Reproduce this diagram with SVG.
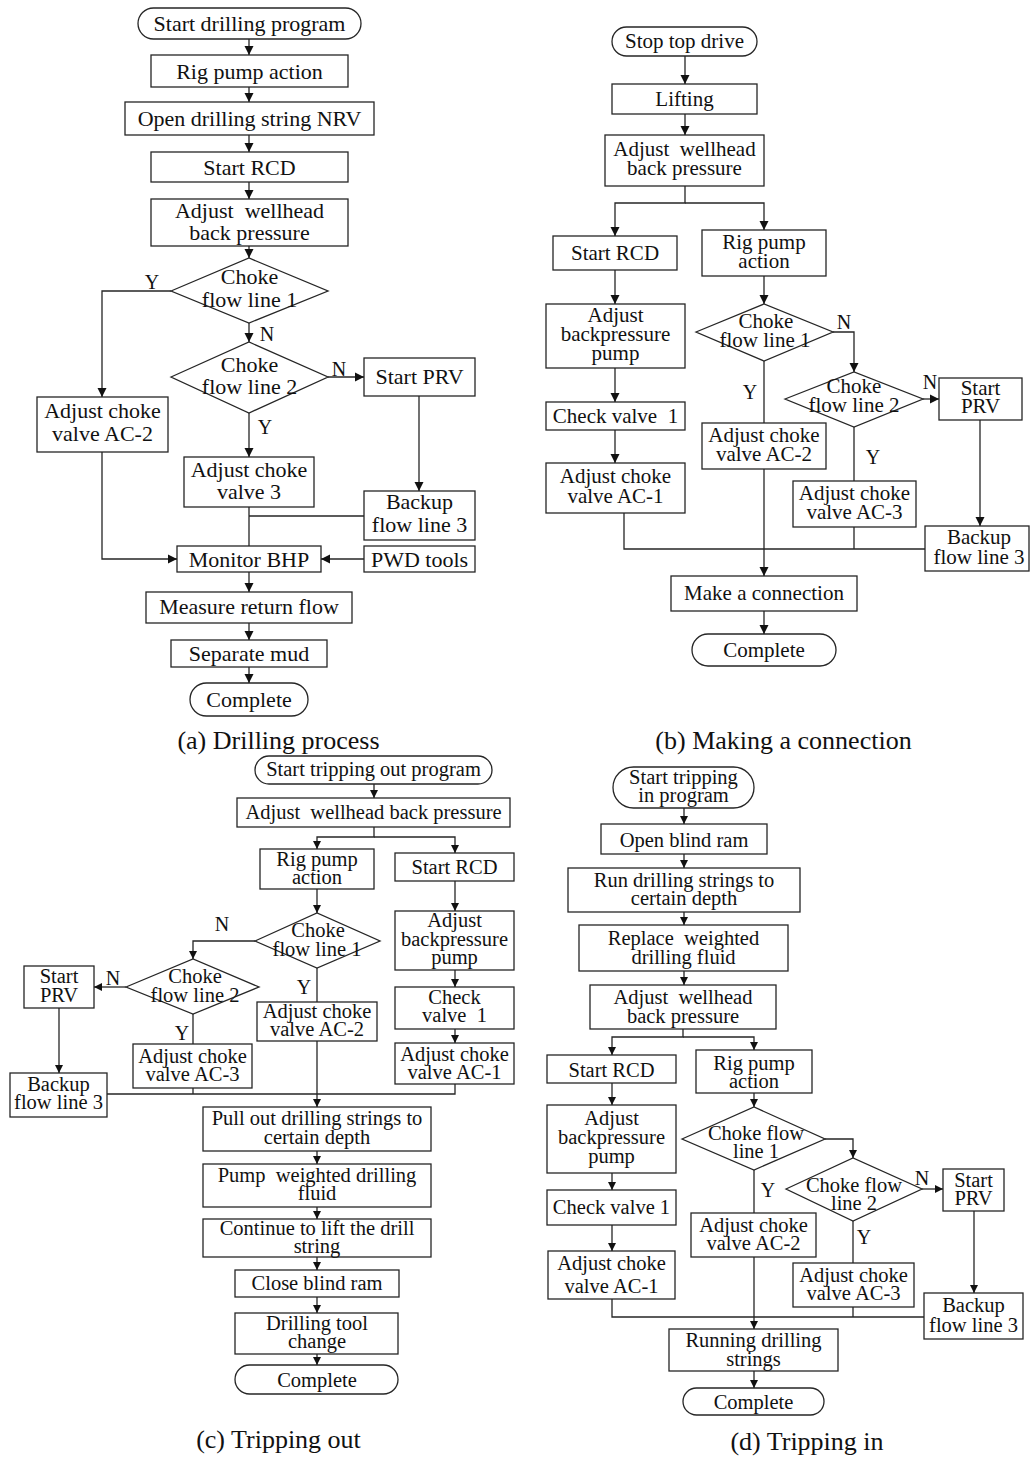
<svg xmlns="http://www.w3.org/2000/svg" width="1030" height="1459" viewBox="0 0 1030 1459">
<defs>
<style>
.n{fill:#fff;stroke:#262626;stroke-width:1.3}
.c{fill:none;stroke:#262626;stroke-width:1.3}
.a{marker-end:url(#ah)}
.s{marker-end:url(#as)}
text{font-family:"Liberation Serif","Times New Roman",serif;fill:#111;text-anchor:middle}
.fa{font-size:22px}
.fb{font-size:21px}
.fc{font-size:20.5px}
.lb{font-size:20px}
.cap{font-size:26px}
.pre{white-space:pre}
</style>
<marker id="ah" viewBox="0 0 10 10" refX="10" refY="5" markerWidth="9" markerHeight="10" markerUnits="userSpaceOnUse" orient="auto"><path d="M0,0 L10,5 L0,10 z" fill="#111"/></marker>
<marker id="as" viewBox="0 0 10 10" refX="10" refY="5" markerWidth="8" markerHeight="9" markerUnits="userSpaceOnUse" orient="auto"><path d="M0,0 L10,5 L0,10 z" fill="#111"/></marker>
</defs>

<!-- ===== (a) Drilling process ===== -->
<g id="a-start"><rect class="n" x="138" y="8" width="223" height="31" rx="15.5"/><text class="fa" x="249.5" y="31">Start drilling program</text></g>
<g id="a-rig"><rect class="n" x="151" y="55" width="197" height="32"/><text class="fa" x="249.5" y="79">Rig pump action</text></g>
<g id="a-nrv"><rect class="n" x="125" y="102" width="249" height="33"/><text class="fa" x="249.5" y="126">Open drilling string NRV</text></g>
<g id="a-rcd"><rect class="n" x="151" y="152" width="197" height="30"/><text class="fa" x="249.5" y="175">Start RCD</text></g>
<g id="a-adj"><rect class="n" x="151" y="199" width="197" height="47"/><text class="fa pre" x="249.5" y="218">Adjust  wellhead</text><text class="fa" x="249.5" y="240">back pressure</text></g>
<g id="a-d1"><polygon class="n" points="171,291 249,258 328,291 249,323"/><text class="fa" x="249.5" y="284">Choke</text><text class="fa" x="249.5" y="307">flow line 1</text></g>
<g id="a-d2"><polygon class="n" points="171,377 249,342 328,377 249,413"/><text class="fa" x="249.5" y="372">Choke</text><text class="fa" x="249.5" y="394">flow line 2</text></g>
<g id="a-prv"><rect class="n" x="364" y="358" width="111" height="38"/><text class="fa" x="419.5" y="384">Start PRV</text></g>
<g id="a-ac2"><rect class="n" x="37" y="397" width="131" height="55"/><text class="fa" x="102.5" y="418">Adjust choke</text><text class="fa" x="102.5" y="441">valve AC-2</text></g>
<g id="a-v3"><rect class="n" x="184" y="457" width="130" height="50"/><text class="fa" x="249" y="477">Adjust choke</text><text class="fa" x="249" y="499">valve 3</text></g>
<g id="a-backup"><rect class="n" x="364" y="491" width="111" height="49"/><text class="fa" x="419.5" y="509">Backup</text><text class="fa" x="419.5" y="532">flow line 3</text></g>
<g id="a-bhp"><rect class="n" x="177" y="546" width="144" height="26"/><text class="fa" x="249" y="567">Monitor BHP</text></g>
<g id="a-pwd"><rect class="n" x="364" y="546" width="111" height="26"/><text class="fa" x="419.5" y="567">PWD tools</text></g>
<g id="a-measure"><rect class="n" x="146" y="592" width="206" height="31"/><text class="fa" x="249" y="614">Measure return flow</text></g>
<g id="a-sep"><rect class="n" x="171" y="640" width="156" height="27"/><text class="fa" x="249" y="661">Separate mud</text></g>
<g id="a-complete"><rect class="n" x="190" y="683" width="118" height="33" rx="16.5"/><text class="fa" x="249" y="707">Complete</text></g>
<text class="cap" x="278.5" y="749">(a) Drilling process</text>

<!-- ===== (b) Making a connection ===== -->
<g id="b-start"><rect class="n" x="612" y="27" width="145" height="29" rx="14.5"/><text class="fb" x="684.5" y="48">Stop top drive</text></g>
<g id="b-lift"><rect class="n" x="612" y="84" width="145" height="30"/><text class="fb" x="684.5" y="106">Lifting</text></g>
<g id="b-adj"><rect class="n" x="605" y="135" width="159" height="51"/><text class="fb pre" x="684.5" y="156">Adjust  wellhead</text><text class="fb" x="684.5" y="175">back pressure</text></g>
<g id="b-rcd"><rect class="n" x="553" y="236" width="124" height="34"/><text class="fb" x="615" y="260">Start RCD</text></g>
<g id="b-rig"><rect class="n" x="702" y="230" width="124" height="46"/><text class="fb" x="764" y="249">Rig pump</text><text class="fb" x="764" y="268">action</text></g>
<g id="b-bp"><rect class="n" x="546" y="304" width="139" height="64"/><text class="fb" x="615.5" y="322">Adjust</text><text class="fb" x="615.5" y="341">backpressure</text><text class="fb" x="615.5" y="360">pump</text></g>
<g id="b-d1"><polygon class="n" points="696,332 764,304 833,332 764,361"/><text class="fb" x="766" y="328">Choke</text><text class="fb" x="765" y="347">flow line 1</text></g>
<g id="b-d2"><polygon class="n" points="785,399 854,372 923,399 854,427"/><text class="fb" x="854" y="393">Choke</text><text class="fb" x="854" y="412">flow line 2</text></g>
<g id="b-prv"><rect class="n" x="939" y="378" width="83" height="42"/><text class="fb" x="980.5" y="395">Start</text><text class="fb" x="980.5" y="413">PRV</text></g>
<g id="b-check"><rect class="n" x="546" y="402" width="139" height="28"/><text class="fb pre" x="615.5" y="423">Check valve  1</text></g>
<g id="b-ac2"><rect class="n" x="702" y="423" width="124" height="46"/><text class="fb" x="764" y="442">Adjust choke</text><text class="fb" x="764" y="461">valve AC-2</text></g>
<g id="b-ac1"><rect class="n" x="546" y="463" width="139" height="50"/><text class="fb" x="615.5" y="483">Adjust choke</text><text class="fb" x="615.5" y="503">valve AC-1</text></g>
<g id="b-ac3"><rect class="n" x="793" y="481" width="123" height="46"/><text class="fb" x="854.5" y="500">Adjust choke</text><text class="fb" x="854.5" y="519">valve AC-3</text></g>
<g id="b-backup"><rect class="n" x="925" y="526" width="104" height="45"/><text class="fb" x="979" y="544">Backup</text><text class="fb" x="979" y="564">flow line 3</text></g>
<g id="b-make"><rect class="n" x="671" y="576" width="186" height="35"/><text class="fb" x="764" y="600">Make a connection</text></g>
<g id="b-complete"><rect class="n" x="692" y="634" width="144" height="32" rx="16"/><text class="fb" x="764" y="657">Complete</text></g>
<text class="cap" x="783.5" y="749">(b) Making a connection</text>

<!-- ===== (c) Tripping out ===== -->
<g id="c-start"><rect class="n" x="255" y="756" width="237" height="28" rx="14"/><text class="fc" x="373.5" y="776">Start tripping out program</text></g>
<g id="c-adj"><rect class="n" x="237" y="798" width="273" height="29"/><text class="fc pre" x="373.5" y="819">Adjust  wellhead back pressure</text></g>
<g id="c-rig"><rect class="n" x="260" y="849" width="114" height="40"/><text class="fc" x="317" y="866">Rig pump</text><text class="fc" x="317" y="884">action</text></g>
<g id="c-rcd"><rect class="n" x="395" y="853" width="119" height="28"/><text class="fc" x="454.5" y="874">Start RCD</text></g>
<g id="c-bp"><rect class="n" x="395" y="911" width="119" height="59"/><text class="fc" x="454.5" y="927">Adjust</text><text class="fc" x="454.5" y="946">backpressure</text><text class="fc" x="454.5" y="964">pump</text></g>
<g id="c-d1"><polygon class="n" points="255,941 317,913 380,941 317,968"/><text class="fc" x="318" y="937">Choke</text><text class="fc" x="317" y="956">flow line 1</text></g>
<g id="c-d2"><polygon class="n" points="126,987 193,959 259,987 193,1014"/><text class="fc" x="195" y="983">Choke</text><text class="fc" x="195" y="1002">flow line 2</text></g>
<g id="c-prv"><rect class="n" x="24" y="966" width="70" height="42"/><text class="fc" x="59" y="983">Start</text><text class="fc" x="59" y="1002">PRV</text></g>
<g id="c-check"><rect class="n" x="395" y="987" width="119" height="42"/><text class="fc" x="454.5" y="1004">Check</text><text class="fc pre" x="454.5" y="1022">valve  1</text></g>
<g id="c-ac2"><rect class="n" x="257" y="1002" width="120" height="39"/><text class="fc" x="317" y="1018">Adjust choke</text><text class="fc" x="317" y="1036">valve AC-2</text></g>
<g id="c-ac3"><rect class="n" x="133" y="1044" width="119" height="44"/><text class="fc" x="192.5" y="1063">Adjust choke</text><text class="fc" x="192.5" y="1081">valve AC-3</text></g>
<g id="c-ac1"><rect class="n" x="395" y="1043" width="119" height="41"/><text class="fc" x="454.5" y="1061">Adjust choke</text><text class="fc" x="454.5" y="1079">valve AC-1</text></g>
<g id="c-backup"><rect class="n" x="10" y="1073" width="97" height="44"/><text class="fc" x="58.5" y="1091">Backup</text><text class="fc" x="58.5" y="1109">flow line 3</text></g>
<g id="c-pull"><rect class="n" x="203" y="1107" width="228" height="44"/><text class="fc" x="317" y="1125">Pull out drilling strings to</text><text class="fc" x="317" y="1144">certain depth</text></g>
<g id="c-pump"><rect class="n" x="203" y="1164" width="228" height="43"/><text class="fc pre" x="317" y="1182">Pump  weighted drilling</text><text class="fc" x="317" y="1200">fluid</text></g>
<g id="c-cont"><rect class="n" x="203" y="1219" width="228" height="38"/><text class="fc" x="317" y="1235">Continue to lift the drill</text><text class="fc" x="317" y="1253">string</text></g>
<g id="c-close"><rect class="n" x="235" y="1270" width="164" height="27"/><text class="fc" x="317" y="1290">Close blind ram</text></g>
<g id="c-tool"><rect class="n" x="235" y="1313" width="163" height="41"/><text class="fc" x="317" y="1330">Drilling tool</text><text class="fc" x="317" y="1348">change</text></g>
<g id="c-complete"><rect class="n" x="235" y="1365" width="163" height="29" rx="14.5"/><text class="fc" x="317" y="1387">Complete</text></g>
<text class="cap" x="278.5" y="1448">(c) Tripping out</text>

<!-- ===== (d) Tripping in ===== -->
<g id="d-start"><rect class="n" x="613" y="767" width="141" height="41" rx="20.5"/><text class="fc" x="683.5" y="784">Start tripping</text><text class="fc" x="683.5" y="802">in program</text></g>
<g id="d-open"><rect class="n" x="601" y="824" width="166" height="30"/><text class="fc" x="684" y="847">Open blind ram</text></g>
<g id="d-run"><rect class="n" x="568" y="868" width="232" height="44"/><text class="fc" x="684" y="887">Run drilling strings to</text><text class="fc" x="684" y="905">certain depth</text></g>
<g id="d-replace"><rect class="n" x="579" y="925" width="209" height="46"/><text class="fc pre" x="683.5" y="945">Replace  weighted</text><text class="fc" x="683.5" y="964">drilling fluid</text></g>
<g id="d-adj"><rect class="n" x="590" y="985" width="186" height="44"/><text class="fc pre" x="683" y="1004">Adjust  wellhead</text><text class="fc" x="683" y="1023">back pressure</text></g>
<g id="d-rcd"><rect class="n" x="547" y="1055" width="129" height="28"/><text class="fc" x="611.5" y="1077">Start RCD</text></g>
<g id="d-rig"><rect class="n" x="696" y="1050" width="116" height="43"/><text class="fc" x="754" y="1070">Rig pump</text><text class="fc" x="754" y="1088">action</text></g>
<g id="d-bp"><rect class="n" x="547" y="1105" width="129" height="68"/><text class="fc" x="611.5" y="1125">Adjust</text><text class="fc" x="611.5" y="1144">backpressure</text><text class="fc" x="611.5" y="1163">pump</text></g>
<g id="d-d1"><polygon class="n" points="682,1139 754,1107 825,1139 754,1170"/><text class="fc" x="756" y="1140">Choke flow</text><text class="fc" x="756" y="1158">line 1</text></g>
<g id="d-d2"><polygon class="n" points="786,1189 853,1158 922,1189 853,1221"/><text class="fc" x="854" y="1192">Choke flow</text><text class="fc" x="854" y="1210">line 2</text></g>
<g id="d-prv"><rect class="n" x="943" y="1169" width="61" height="42"/><text class="fc" x="973.5" y="1187">Start</text><text class="fc" x="973.5" y="1205">PRV</text></g>
<g id="d-check"><rect class="n" x="547" y="1190" width="129" height="35"/><text class="fc" x="611.5" y="1214">Check valve 1</text></g>
<g id="d-ac2"><rect class="n" x="691" y="1213" width="125" height="44"/><text class="fc" x="753.5" y="1232">Adjust choke</text><text class="fc" x="753.5" y="1250">valve AC-2</text></g>
<g id="d-ac1"><rect class="n" x="548" y="1251" width="127" height="48"/><text class="fc" x="611.5" y="1270">Adjust choke</text><text class="fc" x="611.5" y="1293">valve AC-1</text></g>
<g id="d-ac3"><rect class="n" x="793" y="1263" width="121" height="44"/><text class="fc" x="853.5" y="1282">Adjust choke</text><text class="fc" x="853.5" y="1300">valve AC-3</text></g>
<g id="d-backup"><rect class="n" x="924" y="1293" width="99" height="46"/><text class="fc" x="973.5" y="1312">Backup</text><text class="fc" x="973.5" y="1332">flow line 3</text></g>
<g id="d-running"><rect class="n" x="669" y="1329" width="169" height="42"/><text class="fc" x="753.5" y="1347">Running drilling</text><text class="fc" x="753.5" y="1366">strings</text></g>
<g id="d-complete"><rect class="n" x="683" y="1388" width="141" height="27" rx="13.5"/><text class="fc" x="753.5" y="1409">Complete</text></g>
<text class="cap" x="807" y="1450">(d) Tripping in</text>

<!-- ===== connectors ===== -->
<g id="connectors">
<!-- (a) -->
<path class="c a" d="M249,39 V55"/>
<path class="c a" d="M249,87 V102"/>
<path class="c a" d="M249,135 V152"/>
<path class="c a" d="M249,182 V199"/>
<path class="c a" d="M249,246 V258"/>
<path class="c a" d="M249,323 V342"/>
<path class="c a" d="M171,291 H102 V397"/>
<path class="c a" d="M328,377 H364"/>
<path class="c a" d="M249,413 V457"/>
<path class="c a" d="M419,396 V491"/>
<path class="c" d="M249,507 V546 M364,516 H249"/>
<path class="c a" d="M102,452 V559 H177"/>
<path class="c a" d="M364,559 H321"/>
<path class="c a" d="M249,572 V592"/>
<path class="c a" d="M249,623 V640"/>
<path class="c a" d="M249,667 V683"/>
<text class="lb" x="152" y="289">Y</text>
<text class="lb" x="267" y="341">N</text>
<text class="lb" x="339" y="376">N</text>
<text class="lb" x="265" y="434">Y</text>
<!-- (b) -->
<path class="c a" d="M685,56 V84"/>
<path class="c a" d="M685,114 V135"/>
<path class="c a" d="M685,186 V203 H615 V236"/>
<path class="c a" d="M685,203 H764 V230"/>
<path class="c a" d="M615,270 V304"/>
<path class="c a" d="M764,276 V304"/>
<path class="c a" d="M833,332 H854 V372"/>
<path class="c a" d="M923,399 H939"/>
<path class="c" d="M764,361 V423"/>
<path class="c" d="M854,427 V481"/>
<path class="c a" d="M980,420 V526"/>
<path class="c a" d="M615,368 V402"/>
<path class="c a" d="M615,430 V463"/>
<path class="c" d="M624,513 V549 H925 M854,527 V549"/>
<path class="c a" d="M764,469 V576"/>
<path class="c a" d="M764,611 V634"/>
<text class="lb" x="844" y="329">N</text>
<text class="lb" x="930" y="389">N</text>
<text class="lb" x="750" y="399">Y</text>
<text class="lb" x="873" y="464">Y</text>
<!-- (c) -->
<path class="c s" d="M374,784 V798"/>
<path class="c s" d="M374,827 V837 H317 V849"/>
<path class="c s" d="M374,837 H455 V853"/>
<path class="c s" d="M317,889 V913"/>
<path class="c s" d="M455,881 V911"/>
<path class="c s" d="M455,970 V987"/>
<path class="c s" d="M455,1029 V1043"/>
<path class="c s" d="M255,941 H193 V959"/>
<path class="c s" d="M126,987 H94"/>
<path class="c s" d="M59,1008 V1073"/>
<path class="c" d="M193,1014 V1044"/>
<path class="c" d="M317,968 V1002"/>
<path class="c" d="M107,1094 H455 V1084 M193,1088 V1094"/>
<path class="c s" d="M317,1041 V1107"/>
<path class="c s" d="M317,1151 V1164"/>
<path class="c s" d="M317,1207 V1219"/>
<path class="c s" d="M317,1257 V1270"/>
<path class="c s" d="M317,1297 V1313"/>
<path class="c s" d="M317,1354 V1365"/>
<text class="lb" x="222" y="931">N</text>
<text class="lb" x="113" y="985">N</text>
<text class="lb" x="182" y="1040">Y</text>
<text class="lb" x="304" y="994">Y</text>
<!-- (d) -->
<path class="c s" d="M684,808 V824"/>
<path class="c s" d="M684,854 V868"/>
<path class="c s" d="M684,912 V925"/>
<path class="c s" d="M684,971 V985"/>
<path class="c s" d="M683,1029 V1037 H612 V1055"/>
<path class="c s" d="M683,1037 H754 V1050"/>
<path class="c s" d="M612,1083 V1105"/>
<path class="c s" d="M754,1093 V1107"/>
<path class="c s" d="M612,1173 V1190"/>
<path class="c s" d="M612,1225 V1251"/>
<path class="c s" d="M825,1139 H853 V1158"/>
<path class="c s" d="M922,1189 H943"/>
<path class="c s" d="M974,1211 V1293"/>
<path class="c" d="M754,1170 V1213"/>
<path class="c" d="M853,1221 V1263"/>
<path class="c" d="M612,1299 V1317 H924 M853,1307 V1317"/>
<path class="c s" d="M754,1257 V1329"/>
<path class="c s" d="M754,1371 V1388"/>
<text class="lb" x="922" y="1185">N</text>
<text class="lb" x="768" y="1197">Y</text>
<text class="lb" x="864" y="1244">Y</text>
</g>
</svg>
